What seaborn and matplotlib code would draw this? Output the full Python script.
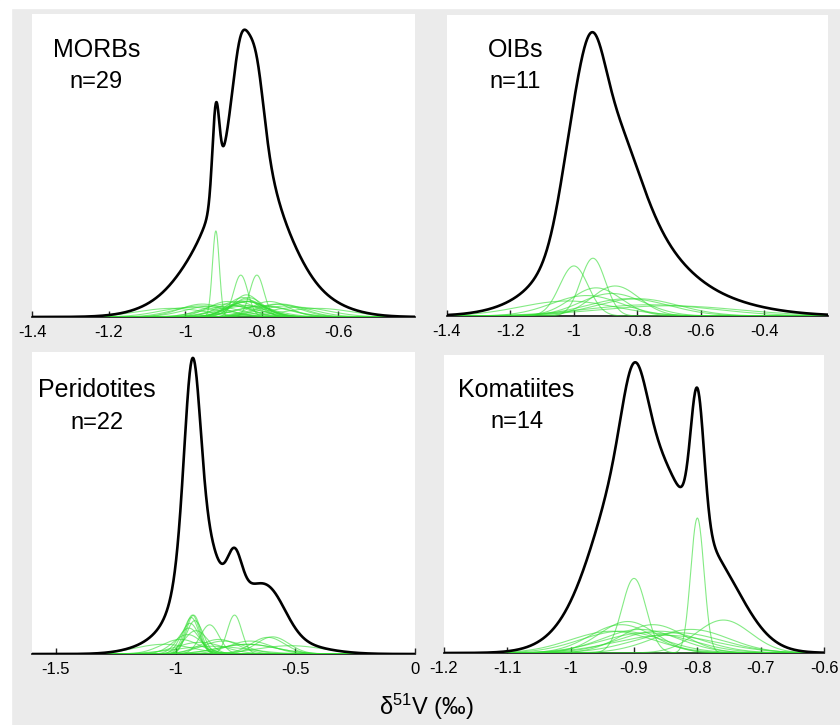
import numpy as np
import pandas as pd
import matplotlib
matplotlib.use("Agg")
import matplotlib.pyplot as plt
import seaborn as sns
from matplotlib.patches import Rectangle

sns.set_style("white")
plt.rcParams['font.family'] = ['Liberation Sans', 'DejaVu Sans']
plt.rcParams['mathtext.default'] = 'regular'
plt.rcParams['axes.unicode_minus'] = False

# delta51V (permil) and 2SD of every sample, per rock type
morb_d51v = [-0.92, -0.855, -0.813, -0.85, -0.84, -0.835, -0.84, -0.84,
             -1.035, -0.985, -0.955, -0.93, -0.89, -0.895, -0.88, -0.865, -0.855, -0.96,
             -0.75, -0.84, -0.835, -0.84, -0.80, -0.795, -0.78, -0.76, -0.735, -0.705, -0.655]
morb_2sd = [0.018, 0.037, 0.037, 0.08, 0.09, 0.08, 0.07, 0.10,
            0.18, 0.16, 0.12, 0.14, 0.10, 0.12, 0.14, 0.10, 0.13, 0.14,
            0.12, 0.14, 0.10, 0.10, 0.14, 0.14, 0.10, 0.12, 0.14, 0.16, 0.18]

oib_d51v = [-1.00, -0.94, -0.93, -0.87, -0.96, -0.88, -0.83, -1.02, -0.80, -0.76, -0.70]
oib_2sd = [0.09, 0.078, 0.16, 0.15, 0.22, 0.20, 0.26, 0.30, 0.26, 0.40, 0.44]

peri_d51v = [-0.930, -0.925, -0.935, -0.920, -0.940, -0.945, -0.915, -0.950, -0.858, -0.754, -0.595,
             -0.820, -0.520, -0.700, -0.900, -0.980, -0.800, -0.615, -0.690, -1.050, -0.850, -0.700]
peri_2sd = [0.060, 0.060, 0.064, 0.070, 0.076, 0.090, 0.10, 0.12, 0.08, 0.06, 0.136,
            0.16, 0.28, 0.24, 0.20, 0.16, 0.18, 0.14, 0.18, 0.24, 0.30, 0.24]

koma_d51v = [-0.80, -0.90, -0.759, -0.92, -0.92, -0.91, -0.89, -0.88, -0.87, -0.86, -0.85, -0.83, -0.935, -0.81]
koma_2sd = [0.021, 0.038, 0.086, 0.10, 0.13, 0.09, 0.12, 0.14, 0.10, 0.13, 0.16, 0.14, 0.13, 0.12]

names = ["MORBs", "OIBs", "Peridotites", "Komatiites"]
values = [morb_d51v, oib_d51v, peri_d51v, koma_d51v]
errors = [morb_2sd, oib_2sd, peri_2sd, koma_2sd]
xlims = [(-1.4, -0.4), (-1.4, -0.2), (-1.6, 0.0), (-1.2, -0.6)]
xticks = [[-1.4, -1.2, -1.0, -0.8, -0.6],
          [-1.4, -1.2, -1.0, -0.8, -0.6, -0.4],
          [-1.5, -1.0, -0.5, 0.0],
          [-1.2, -1.1, -1.0, -0.9, -0.8, -0.7, -0.6]]

# layout (figure fractions) and label spots (axes fractions)
rects = [(0.0381, 0.5628, 0.456, 0.418), (0.532, 0.5641, 0.4536, 0.415),
         (0.0381, 0.0979, 0.456, 0.4166), (0.5286, 0.0993, 0.4524, 0.411)]
title_xy = [(0.168, 0.881, 0.776), (0.18, 0.884, 0.777), (0.17, 0.874, 0.765), (0.191, 0.883, 0.775)]
ytop = [1.055, 1.06, 1.02, 1.025]
green_scale = [1.0, 0.75, 1.0, 1.0]

GREEN = "#33dd33"


def gauss(x, mu, sd):
    return np.exp(-0.5 * ((x - mu) / sd) ** 2) / (sd * np.sqrt(2 * np.pi))


fig = plt.figure(figsize=(8.4, 7.25), dpi=100, facecolor="#ebebeb")
fig.add_artist(Rectangle((0, 1 - 8 / 725), 1, 8 / 725, transform=fig.transFigure,
                         color="white", zorder=0))
fig.add_artist(Rectangle((0, 0), 11 / 840, 1, transform=fig.transFigure,
                         color="white", zorder=0))

for i, name in enumerate(names):
    ax = fig.add_axes(rects[i])
    ax.set_facecolor("white")
    lo, hi = xlims[i]
    x = np.linspace(lo, hi, 2000)
    curves = [gauss(x, m, e / 2) for m, e in zip(values[i], errors[i])]
    total = np.sum(curves, axis=0)

    green_df = pd.DataFrame({
        "x": np.tile(x, len(curves)),
        "y": np.concatenate(curves) * green_scale[i],
        "sample": np.repeat(np.arange(len(curves)), len(x)),
    })
    sns.lineplot(data=green_df, x="x", y="y", units="sample", estimator=None,
                 color=GREEN, lw=0.8, alpha=0.6, ax=ax, zorder=3)
    sns.lineplot(x=x, y=total, color="black", lw=1.9, ax=ax, zorder=4)

    ax.set_xlim(lo, hi)
    ax.set_ylim(0, total.max() * ytop[i])
    ax.set_xticks(xticks[i])
    ax.set_xticklabels([f"{t:g}" for t in xticks[i]])
    ax.set_yticks([])
    ax.set_xlabel("")
    ax.set_ylabel("")
    for s in ["top", "left", "right"]:
        ax.spines[s].set_visible(False)
    ax.spines["bottom"].set_color("#222222")
    ax.spines["bottom"].set_linewidth(1.3)
    ax.tick_params(axis="x", direction="in", length=4, width=1, labelsize=12,
                   pad=6, colors="#222222", labelcolor="black", bottom=True)

    tx, ty, ny = title_xy[i]
    ax.text(tx, ty, name, transform=ax.transAxes, ha="center", va="center",
            fontsize=18, color="black")
    ax.text(tx, ny, f"n={len(values[i])}", transform=ax.transAxes, ha="center",
            va="center", fontsize=17, color="black")

fig.text(0.508, 1 - 707 / 725, "δ$^{51}$V (‰)", ha="center", va="center",
         fontsize=17, color="black")

fig.savefig("out.png", dpi=100, facecolor=fig.get_facecolor())
